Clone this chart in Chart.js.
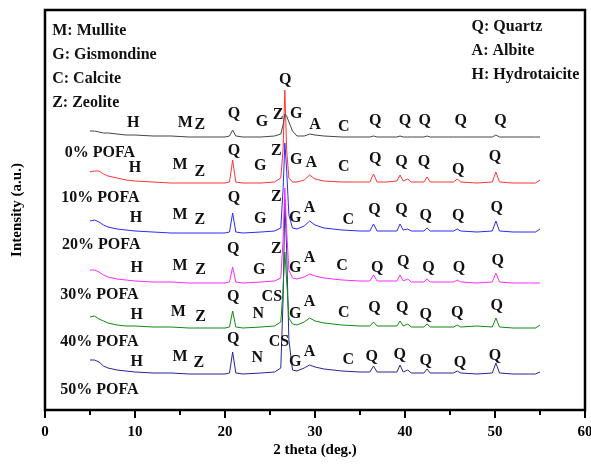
<!DOCTYPE html>
<html>
<head>
<meta charset="utf-8">
<script src="https://cdn.jsdelivr.net/npm/chart.js@4"></script>
<style>
  body { margin: 0; background: #fff; }
  #wrap { width: 591px; height: 464px; }
</style>
</head>
<body>
<div id="wrap"><canvas id="myChart" width="591" height="464"></canvas></div>
<script>
// 2 theta positions shared by all patterns
const twoTheta = [5, 5.5, 6, 6.5, 7, 8, 9, 10, 12, 14, 16, 18, 20, 20.5, 20.85, 21.2, 22, 24, 25.5, 26.2,
    26.45, 26.65, 26.85, 27.1, 27.5, 28, 28.8, 29.4, 30, 31, 33, 35, 36.1, 36.5, 36.9, 38, 39.1, 39.45, 39.8, 40.3,
    40.7, 42.1, 42.45, 42.8, 45.4, 45.8, 46.2, 48, 49.7, 50.1, 50.5, 52, 54.5, 55];

// stacked intensities (a.u.), already shifted as plotted
const pofa0 = [279, 279, 278, 277, 277, 276, 275, 275, 274, 274, 273, 273, 273, 274, 280, 274, 273, 273, 274, 276,
    285, 296, 294, 288, 279, 274, 274, 276, 275, 274, 273, 273, 273, 274, 273, 273, 273, 274, 273, 273,
    273, 273, 274, 273, 273, 273, 273, 273, 273, 275, 273, 273, 273, 273];
const pofa10 = [238, 239, 239, 236, 234, 232, 230, 229, 228, 227, 227, 227, 227, 228, 250, 228, 227, 227, 228, 232,
    260, 320, 260, 232, 228, 228, 230, 235, 231, 229, 228, 228, 228, 236, 228, 228, 229, 235, 229, 231,
    228, 228, 233, 228, 228, 231, 228, 227, 228, 238, 228, 227, 227, 230];
const pofa20 = [189, 190, 188, 185, 183, 181, 180, 179, 178, 177, 177, 177, 177, 178, 197, 178, 177, 178, 179, 182,
    220, 267, 240, 195, 182, 181, 184, 189, 185, 182, 180, 179, 179, 186, 179, 179, 179, 186, 180, 181,
    179, 179, 182, 179, 179, 181, 179, 178, 179, 189, 179, 178, 178, 181];
const pofa30 = [140, 140, 138, 135, 133, 131, 130, 129, 128, 128, 127, 127, 127, 128, 143, 128, 127, 128, 129, 132,
    170, 222, 180, 140, 132, 131, 133, 136, 134, 132, 130, 129, 129, 135, 129, 129, 129, 135, 129, 131,
    128, 128, 131, 128, 128, 130, 128, 127, 128, 137, 128, 127, 127, 127];
const pofa40 = [93, 94, 91, 89, 87, 85, 84, 84, 83, 83, 82, 82, 82, 83, 99, 83, 82, 83, 84, 88,
    120, 158, 130, 92, 86, 85, 88, 92, 89, 87, 85, 84, 84, 88, 84, 84, 84, 89, 84, 86,
    83, 83, 86, 83, 83, 85, 83, 84, 83, 92, 83, 82, 82, 85];
const pofa50 = [50, 50, 48, 44, 42, 40, 39, 38, 37, 37, 36, 36, 36, 37, 58, 37, 36, 37, 38, 42,
    110, 210, 160, 70, 40, 39, 42, 45, 43, 41, 39, 38, 38, 44, 38, 38, 38, 45, 38, 40,
    37, 37, 41, 37, 37, 39, 37, 36, 37, 47, 37, 36, 36, 38];

const seriesNames = ['0% POFA', '10% POFA', '20% POFA', '30% POFA', '40% POFA', '50% POFA'];
const seriesColors = ['#454545', '#ff3535', '#2a2aff', '#ff2aff', '#138a13', '#262696'];
const xTicks = [0, 10, 20, 30, 40, 50, 60];

// sample names [text, 2theta, intensity]
const sampleLabels = [['0% POFA', 2.2, 257], ['10% POFA', 1.8, 212], ['20% POFA', 1.9, 165],
    ['30% POFA', 1.7, 115], ['40% POFA', 1.7, 68], ['50% POFA', 1.7, 20]];

// phase key
const keyLeft = [['M: Mullite', 0.8, 379], ['G: Gismondine', 0.8, 355], ['C: Calcite', 0.8, 331], ['Z: Zeolite', 0.8, 307]];
const keyRight = [['Q: Quartz', 47.4, 383], ['A: Albite', 47.4, 359], ['H: Hydrotaicite', 47.4, 335]];

// peak markers [letter, 2theta, intensity]
const peaks0 = [['H', 9.8, 287], ['M', 15.6, 287], ['Z', 17.2, 285], ['Q', 21.0, 296], ['G', 24.1, 288], ['Z', 25.9, 295],
    ['G', 27.9, 296], ['A', 30.0, 285], ['C', 33.2, 283], ['Q', 36.7, 289], ['Q', 40.0, 289], ['Q', 42.2, 289],
    ['Q', 46.2, 289], ['Q', 50.6, 289], ['Q', 26.7, 330]];
const peaks10 = [['H', 10.0, 242], ['M', 15.0, 245], ['Z', 17.2, 238], ['Q', 21.0, 259], ['G', 23.9, 244], ['Z', 25.7, 259],
    ['G', 27.9, 250], ['A', 29.6, 247], ['C', 33.2, 243], ['Q', 36.7, 251], ['Q', 39.6, 248], ['Q', 42.1, 248],
    ['Q', 45.9, 240], ['Q', 50.0, 253]];
const peaks20 = [['H', 10.1, 192], ['M', 15.0, 195], ['Z', 17.2, 190], ['Q', 21.0, 212], ['G', 23.9, 191], ['Z', 25.7, 213],
    ['G', 27.8, 192], ['A', 29.4, 202], ['C', 33.7, 190], ['Q', 36.6, 200], ['Q', 39.6, 200], ['Q', 42.3, 194],
    ['Q', 45.9, 194], ['Q', 50.2, 202]];
const peaks30 = [['H', 10.2, 142], ['M', 15.0, 144], ['Z', 17.3, 140], ['Q', 20.9, 161], ['G', 23.8, 140], ['Z', 25.7, 161],
    ['G', 27.8, 142], ['A', 29.4, 152], ['C', 33.0, 144], ['Q', 36.9, 142], ['Q', 39.8, 148], ['Q', 42.6, 142],
    ['Q', 46.0, 142], ['Q', 50.3, 149]];
const peaks40 = [['H', 10.2, 95], ['M', 14.8, 98], ['Z', 17.3, 93], ['Q', 20.9, 113], ['N', 23.7, 96], ['CS', 25.2, 113],
    ['G', 27.8, 96], ['A', 29.4, 108], ['C', 33.2, 97], ['Q', 36.6, 102], ['Q', 39.7, 102], ['Q', 42.3, 95],
    ['Q', 45.8, 97], ['Q', 50.2, 104]];
const peaks50 = [['H', 10.2, 48], ['M', 15.0, 53], ['Z', 17.1, 47], ['Q', 20.9, 71], ['N', 23.6, 52], ['CS', 26.0, 68],
    ['G', 27.8, 48], ['A', 29.4, 58], ['C', 33.7, 50], ['Q', 36.3, 53], ['Q', 39.4, 55], ['Q', 42.3, 49],
    ['Q', 46.1, 47], ['Q', 50.0, 54]];

const serif = '"Liberation Serif", "Times New Roman", serif';
const allSeries = [pofa0, pofa10, pofa20, pofa30, pofa40, pofa50];

let datasets = [];
for (let i = 0; i < allSeries.length; i++) {
    datasets.push({
        label: seriesNames[i],
        data: allSeries[i].map((v, j) => ({x: twoTheta[j], y: v})),
        borderColor: seriesColors[i],
        borderWidth: 1,
        pointRadius: 0,
        tension: 0,
        fill: false
    });
}

const annotate = {
    id: 'annotate',
    afterDatasetsDraw(chart) {
        const ctx = chart.ctx;
        const xs = chart.scales.x;
        const ys = chart.scales.y;
        ctx.save();
        ctx.fillStyle = '#111';
        ctx.textBaseline = 'middle';
        ctx.font = 'bold 16px ' + serif;
        ctx.textAlign = 'left';
        sampleLabels.concat(keyLeft, keyRight).forEach(function (t) {
            ctx.fillText(t[0], xs.getPixelForValue(t[1]), ys.getPixelForValue(t[2]));
        });
        ctx.textAlign = 'center';
        [peaks0, peaks10, peaks20, peaks30, peaks40, peaks50].forEach(function (row) {
            row.forEach(function (p) {
                ctx.fillText(p[0], xs.getPixelForValue(p[1]), ys.getPixelForValue(p[2]));
            });
        });

        // frame and ticks
        const a = chart.chartArea;
        ctx.strokeStyle = '#000';
        ctx.lineWidth = 2.5;
        ctx.strokeRect(a.left, a.top, a.right - a.left, a.bottom - a.top);
        ctx.lineWidth = 2;
        for (let v = 0; v <= 60; v += 5) {
            let px = xs.getPixelForValue(v);
            let len = v % 10 === 0 ? 8 : 5;
            ctx.beginPath();
            ctx.moveTo(px, a.bottom);
            ctx.lineTo(px, a.bottom + len);
            ctx.stroke();
        }
        ctx.restore();
    }
};

const ctx = document.getElementById('myChart').getContext('2d');

const myChart = new Chart(ctx, {
    type: 'line',
    data: {datasets: datasets},
    options: {
        responsive: false,
        animation: false,
        devicePixelRatio: 1,
        layout: {padding: {top: 10, right: 6, left: 0, bottom: 0}},
        plugins: {
            legend: {display: false},
            tooltip: {enabled: false}
        },
        scales: {
            x: {
                type: 'linear',
                min: 0,
                max: 60,
                afterFit: function (s) {
                    s.height = 54;
                    s.paddingLeft = 0;
                    s.paddingRight = 0;
                },
                afterBuildTicks: function (s) { s.ticks = xTicks.map(v => ({value: v})); },
                grid: {display: false, drawTicks: false},
                border: {display: false},
                ticks: {
                    padding: 13,
                    color: '#000',
                    font: {family: serif, size: 15, weight: 'bold'}
                },
                title: {
                    display: true,
                    text: '2 theta (deg.)',
                    color: '#000',
                    padding: {top: 0, bottom: 5},
                    font: {family: serif, size: 15, weight: 'bold'}
                }
            },
            y: {
                min: 0,
                max: 400,
                afterFit: function (s) { s.width = 45; },
                grid: {display: false, drawTicks: false},
                border: {display: false},
                ticks: {display: false},
                title: {
                    display: true,
                    text: 'Intensity (a.u.)',
                    color: '#000',
                    padding: {top: 8, bottom: 0},
                    font: {family: serif, size: 15, weight: 'bold'}
                }
            }
        }
    },
    plugins: [annotate]
});
</script>
</body>
</html>
